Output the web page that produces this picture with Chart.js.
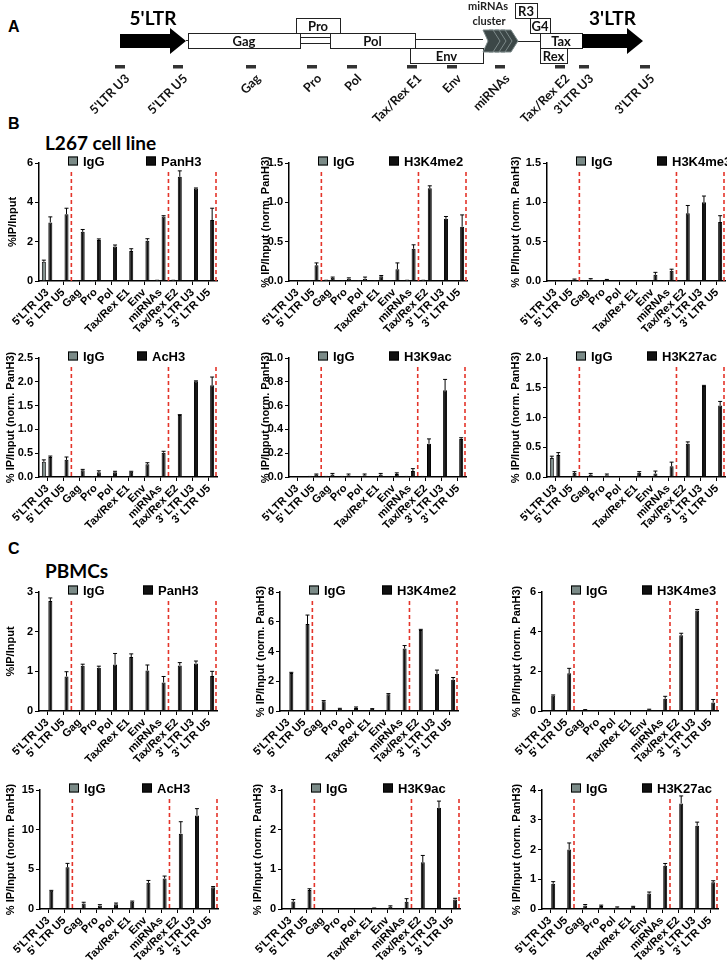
<!DOCTYPE html>
<html>
<head>
<meta charset="utf-8">
<script src="https://cdn.jsdelivr.net/npm/chart.js@4.4.0/dist/chart.umd.min.js"></script>
<style>
  body { margin: 0; background: #fff; width: 727px; height: 964px; position: relative; overflow: hidden; font-family: "Liberation Sans", Arial, sans-serif; }
  canvas { position: absolute; }
  .txt { position: absolute; font-weight: bold; color: #000; white-space: nowrap; line-height: 1; }
  .letter { font-size: 16px; }
  .head { font-family: Lato, "Liberation Sans", sans-serif; font-size: 19px; }
</style>
</head>
<body>
<div class="txt letter" style="left:8px;top:19px;">A</div>
<div class="txt letter" style="left:8px;top:116px;">B</div>
<div class="txt letter" style="left:8px;top:541px;">C</div>
<div class="txt head" style="left:45px;top:133px;">L267 cell line</div>
<div class="txt head" style="left:45px;top:561px;">PBMCs</div>
<script>
// categories (qPCR amplicons along the HTLV-1 provirus)
const regions = ["5'LTR U3", "5' LTR U5", "Gag", "Pro", "Pol", "Tax/Rex E1", "Env", "miRNAs", "Tax/Rex E2", "3' LTR U3", "3' LTR U5"];
const none = [0, 0, 0, 0, 0, 0, 0, 0, 0, 0, 0];

// B - L267 cell line
const l267PanH3 = [2.98, 3.4, 2.5, 2.08, 1.75, 1.52, 2.05, 3.28, 5.3, 4.7, 3.1];
const l267PanH3Err = [0.28, 0.3, 0.12, 0.06, 0.08, 0.12, 0.1, 0.04, 0.3, 0.03, 0.6];
const l267PanH3IgG = [0.98, 0.03, 0.04, 0.05, 0.02, 0.02, 0.02, 0.07, 0.08, 0.02, 0.02];
const l267PanH3IgGErr = [0.08, 0, 0, 0, 0, 0, 0, 0, 0, 0, 0];

const l267K4me2 = [0, 0.2, 0.04, 0.03, 0.03, 0.06, 0.15, 0.41, 1.18, 0.79, 0.69];
const l267K4me2Err = [0, 0.03, 0.01, 0.01, 0.02, 0.01, 0.08, 0.05, 0.03, 0.03, 0.15];
const l267K4me2IgG = [0, 0.01, 0.02, 0.01, 0.01, 0.01, 0.01, 0.02, 0.02, 0, 0];

const l267K4me3 = [0, 0.02, 0.02, 0.01, 0, 0, 0.08, 0.13, 0.86, 1.0, 0.75];
const l267K4me3Err = [0, 0.005, 0.01, 0.01, 0, 0, 0.03, 0.02, 0.1, 0.08, 0.08];
const l267K4me3IgG = [0, 0.01, 0.01, 0.01, 0, 0, 0, 0.01, 0.01, 0, 0];

const l267AcH3 = [0.42, 0.36, 0.14, 0.1, 0.1, 0.11, 0.27, 0.51, 1.3, 2.01, 1.93];
const l267AcH3Err = [0.02, 0.06, 0.02, 0.03, 0.02, 0.01, 0.03, 0.03, 0.01, 0.01, 0.17];
const l267AcH3IgG = [0.32, 0.01, 0.01, 0.02, 0.01, 0.01, 0.01, 0.01, 0.01, 0, 0];
const l267AcH3IgGErr = [0.04, 0, 0, 0, 0, 0, 0, 0, 0, 0, 0];

const l267K9ac = [0, 0.02, 0.02, 0.015, 0.015, 0.02, 0.025, 0.05, 0.28, 0.73, 0.32];
const l267K9acErr = [0, 0.005, 0.01, 0.01, 0.01, 0.01, 0.01, 0.02, 0.04, 0.09, 0.01];
const l267K9acIgG = [0, 0.01, 0.01, 0.01, 0.005, 0.005, 0.005, 0.01, 0.01, 0, 0];

const l267K27ac = [0.37, 0.07, 0.04, 0.03, 0.01, 0.07, 0.06, 0.18, 0.56, 1.53, 1.2];
const l267K27acErr = [0.04, 0.02, 0.02, 0.02, 0, 0.02, 0.04, 0.07, 0.03, 0.01, 0.07];
const l267K27acIgG = [0.32, 0.01, 0.01, 0.01, 0.005, 0.005, 0.01, 0.01, 0.01, 0, 0];
const l267K27acIgGErr = [0.03, 0, 0, 0, 0, 0, 0, 0, 0, 0, 0];

// C - PBMCs
const pbmcPanH3 = [2.77, 0.87, 1.14, 1.09, 1.17, 1.36, 1.02, 0.72, 1.15, 1.2, 0.88];
const pbmcPanH3Err = [0.08, 0.12, 0.04, 0.04, 0.28, 0.08, 0.14, 0.15, 0.07, 0.06, 0.12];
const pbmcPanH3IgG = [0, 0, 0.02, 0, 0, 0, 0, 0, 0, 0, 0.01];

const pbmcK4me2 = [2.55, 5.85, 0.65, 0.15, 0.2, 0.13, 1.12, 4.2, 5.45, 2.5, 2.1];
const pbmcK4me2Err = [0.05, 0.6, 0.05, 0.03, 0.07, 0.03, 0.05, 0.2, 0.04, 0.25, 0.15];

const pbmcK4me3 = [0.78, 1.9, 0.05, 0.02, 0.01, 0.01, 0.07, 0.62, 3.82, 5.07, 0.43];
const pbmcK4me3Err = [0.03, 0.25, 0.02, 0, 0, 0, 0.02, 0.12, 0.1, 0.05, 0.15];

const pbmcAcH3 = [2.3, 5.25, 0.7, 0.45, 0.6, 0.9, 3.3, 3.85, 9.5, 11.8, 2.75];
const pbmcAcH3Err = [0.05, 0.5, 0.15, 0.1, 0.15, 0.1, 0.3, 0.3, 1.5, 0.85, 0.08];

const pbmcK9ac = [0.19, 0.48, 0.01, 0.01, 0, 0.02, 0.06, 0.18, 1.18, 2.55, 0.24];
const pbmcK9acErr = [0.05, 0.03, 0, 0, 0, 0.005, 0.02, 0.08, 0.17, 0.17, 0.03];
const pbmcK9acIgG = [0, 0, 0, 0, 0, 0, 0, 0, 0, 0, 0.01];

const pbmcK27ac = [0.85, 2.0, 0.12, 0.1, 0.05, 0.07, 0.52, 1.45, 3.55, 2.8, 0.9];
const pbmcK27acErr = [0.07, 0.22, 0.03, 0.03, 0.02, 0.02, 0.05, 0.08, 0.25, 0.12, 0.05];

// provirus map (panel A), genome positions in map units
const genes = ["Gag", "Pro", "Pol", "Env", "R3", "G4", "Tax", "Rex"];
const geneStart = [188, 296, 330, 410, 515, 530, 540, 540];
const geneEnd = [300, 340, 415, 483, 537, 550, 582, 567];
const geneLane = [1, 0, 1, 2, -1, 0, 1, 2];
const ltrNames = ["5'LTR", "3'LTR"];
const ltrStart = [120, 582];
const ltrEnd = [186, 643];
const probes = ["5'LTR U3", "5'LTR U5", "Gag", "Pro", "Pol", "Tax/Rex E1", "Env", "miRNAs", "Tax/Rex E2", "3'LTR U3", "3'LTR U5"];
const probePos = [120, 178, 251, 312, 352, 412, 452, 500, 560, 584, 645];

const FONT = "'Liberation Sans', Arial, sans-serif";
const SEPARATORS = [2, 8, 11];

const decorPlugin = {
    id: 'decor',
    afterDatasetsDraw(chart, args, opts) {
        const { ctx, chartArea, scales: { x, y } } = chart;
        // error bars (upper only)
        chart.data.datasets.forEach((ds, i) => {
            const meta = chart.getDatasetMeta(i);
            meta.data.forEach((bar, j) => {
                const e = ds.errors ? ds.errors[j] : 0;
                if (!e) return;
                const top = y.getPixelForValue(ds.data[j] + e);
                ctx.save();
                ctx.strokeStyle = '#000';
                ctx.lineWidth = 1;
                ctx.beginPath();
                ctx.moveTo(bar.x, bar.y);
                ctx.lineTo(bar.x, top);
                ctx.moveTo(bar.x - 2, top);
                ctx.lineTo(bar.x + 2, top);
                ctx.stroke();
                ctx.restore();
            });
        });
        // red dashed separators
        ctx.save();
        ctx.strokeStyle = '#e4342a';
        ctx.lineWidth = 1.6;
        ctx.setLineDash([4, 3]);
        SEPARATORS.forEach(k => {
            let px;
            if (k >= chart.data.labels.length) px = chartArea.right - 1;
            else px = (x.getPixelForValue(k - 1) + x.getPixelForValue(k)) / 2;
            ctx.beginPath();
            ctx.moveTo(px, chartArea.top + 9);
            ctx.lineTo(px, chartArea.bottom);
            ctx.stroke();
        });
        ctx.restore();
        // legend
        ctx.save();
        ctx.font = "bold 13px " + FONT;
        ctx.textBaseline = 'middle';
        const cy = chartArea.top - 2;
        chart.data.datasets.forEach((ds, i) => {
            const bx = chartArea.left + opts.legendX[i];
            ctx.fillStyle = ds.backgroundColor;
            ctx.fillRect(bx, cy - 4.5, 10, 9);
            ctx.strokeStyle = '#000';
            ctx.lineWidth = 1;
            ctx.strokeRect(bx + 0.5, cy - 4, 9, 8);
            ctx.fillStyle = '#000';
            ctx.fillText(ds.label, bx + 15, cy + 1);
        });
        ctx.restore();
    }
};

function makePanel(p) {
    const padTop = 24;
    const axisH = 75;
    const canvasLeft = Math.max(0, p.left - 48);
    const w = p.right - canvasLeft + 12;
    const h = padTop + (p.bottom - p.top) + axisH;
    const canvas = document.createElement('canvas');
    canvas.width = w;
    canvas.height = h;
    canvas.style.left = canvasLeft + 'px';
    canvas.style.top = (p.top - padTop) + 'px';
    document.body.appendChild(canvas);
    const tickFont = { family: FONT, size: 11, weight: 'bold' };
    new Chart(canvas, {
        type: 'bar',
        data: {
            labels: regions,
            datasets: [
                { label: 'IgG', data: p.igg || none, errors: p.iggErr || none, backgroundColor: '#7b8b88', borderColor: '#111', borderWidth: 1 },
                { label: p.mark, data: p.values, errors: p.err, backgroundColor: '#111', borderColor: '#000', borderWidth: 1 }
            ]
        },
        options: {
            responsive: false,
            animation: false,
            layout: { padding: { top: padTop, left: 0, right: w - (p.right - canvasLeft), bottom: 0 } },
            datasets: { bar: { categoryPercentage: 0.8, barPercentage: 0.62 } },
            plugins: {
                legend: { display: false },
                tooltip: { enabled: false },
                decor: { legendX: [29, p.legend2 || 103] }
            },
            scales: {
                x: {
                    grid: { drawOnChartArea: false, offset: false, color: '#000', tickLength: 4 },
                    border: { color: '#000', width: 1.5 },
                    ticks: { autoSkip: false, maxRotation: 45, minRotation: 45, font: tickFont, color: '#000', padding: 1 },
                    afterFit: s => { s.height = axisH; s.paddingLeft = 0; s.paddingRight = 0; }
                },
                y: {
                    min: 0,
                    max: p.max,
                    ticks: { stepSize: p.step, font: tickFont, color: '#000', padding: 2, callback: v => v.toFixed(p.dec) },
                    grid: { drawOnChartArea: false, color: '#000', tickLength: 4 },
                    border: { color: '#000', width: 1.5 },
                    title: {
                        display: true, text: p.yTitle, color: '#000',
                        font: { family: FONT, size: 11, weight: 'bold' },
                        padding: { top: p.titleX - canvasLeft - 6.6, bottom: 0 }
                    },
                    afterFit: s => { s.width = p.left - canvasLeft; s.paddingTop = 0; s.paddingBottom = 0; }
                }
            }
        },
        plugins: [decorPlugin]
    });
}

const NORM = '% IP/Input (norm. PanH3)';
const panels = [
    { mark: 'PanH3', values: l267PanH3, err: l267PanH3Err, igg: l267PanH3IgG, iggErr: l267PanH3IgGErr, max: 6, step: 2, dec: 0, yTitle: '%IP/Input', left: 39, right: 217, top: 163, bottom: 281, titleX: 13, legend2: 107 },
    { mark: 'H3K4me2', values: l267K4me2, err: l267K4me2Err, igg: l267K4me2IgG, max: 1.5, step: 0.5, dec: 1, yTitle: NORM, left: 289, right: 467, top: 163, bottom: 281, titleX: 266, legend2: 100 },
    { mark: 'H3K4me3', values: l267K4me3, err: l267K4me3Err, igg: l267K4me3IgG, max: 1.5, step: 0.5, dec: 1, yTitle: NORM, left: 547, right: 725, top: 163, bottom: 281, titleX: 516, legend2: 110 },
    { mark: 'AcH3', values: l267AcH3, err: l267AcH3Err, igg: l267AcH3IgG, iggErr: l267AcH3IgGErr, max: 2.5, step: 0.5, dec: 1, yTitle: NORM, left: 39, right: 217, top: 358, bottom: 477, titleX: 11, legend2: 98 },
    { mark: 'H3K9ac', values: l267K9ac, err: l267K9acErr, igg: l267K9acIgG, max: 1.0, step: 0.2, dec: 1, yTitle: NORM, left: 289, right: 466, top: 358, bottom: 477, titleX: 266, legend2: 100 },
    { mark: 'H3K27ac', values: l267K27ac, err: l267K27acErr, igg: l267K27acIgG, iggErr: l267K27acIgGErr, max: 2.0, step: 0.5, dec: 1, yTitle: NORM, left: 547, right: 725, top: 358, bottom: 477, titleX: 516, legend2: 100 },
    { mark: 'PanH3', values: pbmcPanH3, err: pbmcPanH3Err, igg: pbmcPanH3IgG, max: 3, step: 1, dec: 0, yTitle: '%IP/Input', left: 39, right: 217, top: 592, bottom: 711, titleX: 11, legend2: 104 },
    { mark: 'H3K4me2', values: pbmcK4me2, err: pbmcK4me2Err, max: 8, step: 2, dec: 0, yTitle: NORM, left: 280, right: 458, top: 592, bottom: 711, titleX: 261, legend2: 102 },
    { mark: 'H3K4me3', values: pbmcK4me3, err: pbmcK4me3Err, max: 6, step: 2, dec: 0, yTitle: NORM, left: 542, right: 718, top: 592, bottom: 711, titleX: 517, legend2: 100 },
    { mark: 'AcH3', values: pbmcAcH3, err: pbmcAcH3Err, max: 15, step: 5, dec: 0, yTitle: NORM, left: 40, right: 218, top: 790, bottom: 909, titleX: 11, legend2: 102 },
    { mark: 'H3K9ac', values: pbmcK9ac, err: pbmcK9acErr, igg: pbmcK9acIgG, max: 3, step: 1, dec: 0, yTitle: NORM, left: 282, right: 460, top: 790, bottom: 909, titleX: 258, legend2: 101 },
    { mark: 'H3K27ac', values: pbmcK27ac, err: pbmcK27acErr, max: 4, step: 1, dec: 0, yTitle: NORM, left: 542, right: 718, top: 790, bottom: 909, titleX: 517, legend2: 100 }
];
panels.forEach(makePanel);

// panel A: provirus map drawn on a blank linear chart
const mapPlugin = {
    id: 'provirusMap',
    afterDraw(chart) {
        const { ctx, scales: { x, y } } = chart;
        const X = v => x.getPixelForValue(v);
        const Y = v => y.getPixelForValue(v);
        const laneTop = [18, 33, 48];
        const laneY = l => (l < 0 ? 3 : laneTop[l]);
        ctx.save();
        ctx.strokeStyle = '#222';
        ctx.lineWidth = 1;
        // connecting lines
        const seg = (a, b, yy) => { ctx.beginPath(); ctx.moveTo(X(a), Y(yy) + 0.5); ctx.lineTo(X(b), Y(yy) + 0.5); ctx.stroke(); };
        seg(186, 188, 40);
        seg(300, 330, 37); seg(300, 330, 43);
        seg(415, 483, 39);
        seg(517, 540, 41);
        // gene boxes
        genes.forEach((g, i) => {
            const x0 = X(geneStart[i]), x1 = X(geneEnd[i]);
            const y0 = Y(laneY(geneLane[i])), y1 = y0 + 15;
            ctx.fillStyle = '#fff';
            ctx.fillRect(x0, y0, x1 - x0, y1 - y0);
            ctx.strokeRect(x0 + 0.5, y0 + 0.5, x1 - x0, y1 - y0);
        });
        ctx.fillStyle = '#111';
        ctx.font = "bold 13px Lato, 'Liberation Sans', sans-serif";
        ctx.textAlign = 'center';
        ctx.textBaseline = 'middle';
        genes.forEach((g, i) => {
            ctx.fillText(g, (X(geneStart[i]) + X(geneEnd[i])) / 2, Y(laneY(geneLane[i])) + 8.5);
        });
        // LTR arrows
        ltrNames.forEach((n, i) => {
            const x0 = X(ltrStart[i]), x1 = X(ltrEnd[i]), xh = x1 - 16, cy = Y(41);
            ctx.fillStyle = '#000';
            ctx.beginPath();
            ctx.moveTo(x0, cy - 7); ctx.lineTo(xh, cy - 7); ctx.lineTo(xh, cy - 13);
            ctx.lineTo(x1, cy); ctx.lineTo(xh, cy + 13); ctx.lineTo(xh, cy + 7); ctx.lineTo(x0, cy + 7);
            ctx.closePath();
            ctx.fill();
            ctx.font = "bold 19px Lato, 'Liberation Sans', sans-serif";
            ctx.fillText(n, (x0 + x1) / 2, Y(19));
        });
        // miRNA cluster chevrons
        for (let k = 3; k >= 0; k--) {
            const x0 = X(483 + k * 6), cy = Y(41);
            ctx.fillStyle = '#3c4747';
            ctx.strokeStyle = '#7d8a8a';
            ctx.beginPath();
            ctx.moveTo(x0, cy - 11); ctx.lineTo(x0 + 10, cy - 11); ctx.lineTo(x0 + 17, cy);
            ctx.lineTo(x0 + 10, cy + 11); ctx.lineTo(x0, cy + 11); ctx.lineTo(x0 + 5, cy);
            ctx.closePath();
            ctx.fill();
            ctx.stroke();
        }
        ctx.fillStyle = '#222';
        ctx.font = "bold 11px Lato, 'Liberation Sans', sans-serif";
        ctx.fillText('miRNAs', X(488), Y(6));
        ctx.fillText('cluster', X(489), Y(21));
        // amplicon marks and labels
        probes.forEach((pr, i) => {
            const px = X(probePos[i]);
            ctx.fillStyle = '#333';
            ctx.fillRect(px - 5, Y(65), 10, 3.5);
            ctx.save();
            ctx.translate(px + 3, Y(72));
            ctx.rotate(-Math.PI / 4);
            ctx.textAlign = 'right';
            ctx.textBaseline = 'top';
            ctx.fillStyle = '#111';
            ctx.font = "bold 12.5px Lato, 'Liberation Sans', sans-serif";
            ctx.fillText(pr, 0, 0);
            ctx.restore();
        });
        ctx.restore();
    }
};

const mapCanvas = document.createElement('canvas');
mapCanvas.width = 727;
mapCanvas.height = 128;
mapCanvas.style.left = '0px';
mapCanvas.style.top = '0px';
document.body.appendChild(mapCanvas);
new Chart(mapCanvas, {
    type: 'scatter',
    data: { datasets: [{ data: [] }] },
    options: {
        responsive: false,
        animation: false,
        layout: { padding: 0 },
        plugins: { legend: { display: false }, tooltip: { enabled: false } },
        scales: {
            x: { type: 'linear', min: 0, max: 727, display: false },
            y: { type: 'linear', min: 0, max: 128, reverse: true, display: false }
        }
    },
    plugins: [mapPlugin]
});
</script>
</body>
</html>
